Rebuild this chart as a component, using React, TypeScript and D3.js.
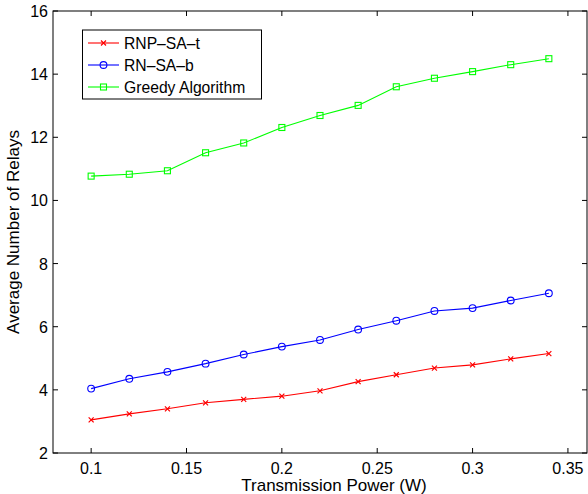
import React from "react";
import * as d3 from "d3";

const xValues = [0.1, 0.12, 0.14, 0.16, 0.18, 0.2, 0.22, 0.24, 0.26, 0.28, 0.3, 0.32, 0.34];
const rnpSaT = [3.05, 3.24, 3.4, 3.59, 3.7, 3.8, 3.97, 4.26, 4.48, 4.69, 4.79, 4.98, 5.15];
const rnSaB = [4.04, 4.35, 4.57, 4.83, 5.12, 5.37, 5.58, 5.91, 6.19, 6.5, 6.59, 6.83, 7.06];
const greedy = [10.77, 10.83, 10.94, 11.51, 11.82, 12.31, 12.69, 13.01, 13.6, 13.87, 14.08, 14.3, 14.49];
const xTicks = [0.1, 0.15, 0.2, 0.25, 0.3, 0.35];
const yTicks = [2, 4, 6, 8, 10, 12, 14, 16];
const seriesNames = ["RNP\u2013SA\u2013t", "RN\u2013SA\u2013b", "Greedy Algorithm"];

const W = 588;
const H = 494;
const L = 53, R = 587, T = 11, B = 453;

export default function App() {
  const x = d3.scaleLinear().domain([0.08, 0.36]).range([L, R]);
  const y = d3.scaleLinear().domain([2, 16]).range([B, T]);
  const line = d3
    .line<[number, number]>()
    .x((d) => x(d[0]))
    .y((d) => y(d[1]));
  const font = "Arial, 'Liberation Sans', Helvetica, sans-serif";
  const series = [
    { name: seriesNames[0], values: rnpSaT, color: "#ff0000", marker: "x" },
    { name: seriesNames[1], values: rnSaB, color: "#0000ff", marker: "o" },
    { name: seriesNames[2], values: greedy, color: "#00ff00", marker: "s" },
  ];
  const marker = (m: string, cx: number, cy: number, color: string, key: string) => {
    if (m === "x") {
      const s = 2.5;
      return (
        <path key={key} d={`M${cx - s},${cy - s}L${cx + s},${cy + s}M${cx - s},${cy + s}L${cx + s},${cy - s}`} stroke={color} strokeWidth={1.2} fill="none" />
      );
    }
    if (m === "o") return <circle key={key} cx={cx} cy={cy} r={3.4} stroke={color} fill="none" strokeWidth={1.1} />;
    return <rect key={key} x={cx - 3} y={cy - 3} width={6} height={6} stroke={color} fill="none" strokeWidth={1.1} />;
  };
  const tickLen = 5;
  return (
    <svg width={W} height={H} style={{ position: "absolute", left: 0, top: 0, background: "#fff" }} fontFamily={font}>
      <rect x={0} y={0} width={W} height={H} fill="#fff" />
      {xTicks.map((t) => (
        <g key={"xt" + t}>
          <line x1={x(t)} x2={x(t)} y1={B} y2={B - tickLen} stroke="#000" />
          <line x1={x(t)} x2={x(t)} y1={T} y2={T + tickLen} stroke="#000" />
          <text x={x(t)} y={474} fontSize={16} textAnchor="middle" fill="#000">
            {d3.format("")(t)}
          </text>
        </g>
      ))}
      {yTicks.map((t) => (
        <g key={"yt" + t}>
          <line x1={L} x2={L + tickLen} y1={y(t)} y2={y(t)} stroke="#000" />
          <line x1={R} x2={R - tickLen} y1={y(t)} y2={y(t)} stroke="#000" />
          <text x={48} y={y(t) + 6} fontSize={16} textAnchor="end" fill="#000">
            {t}
          </text>
        </g>
      ))}
      <rect x={L} y={T} width={R - L} height={B - T} fill="none" stroke="#000" strokeWidth={1} />
      {series.map((s) => {
        const pts = xValues.map((xv, i) => [xv, s.values[i]] as [number, number]);
        return (
          <g key={s.name}>
            <path d={line(pts) || ""} fill="none" stroke={s.color} strokeWidth={1.1} />
            {pts.map((p, i) => marker(s.marker, x(p[0]), y(p[1]), s.color, s.name + i))}
          </g>
        );
      })}
      <rect x={82.5} y={30} width={179} height={69} fill="#fff" stroke="#000" strokeWidth={1} />
      {series.map((s, i) => {
        const cy = 43 + i * 22;
        return (
          <g key={"lg" + i}>
            <line x1={88} x2={119} y1={cy} y2={cy} stroke={s.color} strokeWidth={1.1} />
            {marker(s.marker, 103.5, cy, s.color, "lm" + i)}
            <text x={124} y={cy + 6} fontSize={15.7} fill="#000">
              {s.name}
            </text>
          </g>
        );
      })}
      <text x={334} y={491} fontSize={17} textAnchor="middle" fill="#000">
        Transmission Power (W)
      </text>
      <text transform={`translate(19,${(T + B) / 2}) rotate(-90)`} fontSize={17} textAnchor="middle" fill="#000">
        Average Number of Relays
      </text>
    </svg>
  );
}
